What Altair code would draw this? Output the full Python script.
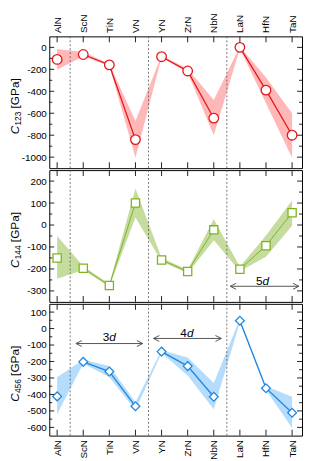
import altair as alt
import pandas as pd

# ---------------- data ----------------
compounds = ["AlN", "ScN", "TiN", "VN", "YN", "ZrN", "NbN", "LaN", "HfN", "TaN"]
segment = ["a", "b", "b", "b", "c", "c", "c", "d", "d", "d"]

c123 = [-110, -65, -160, -840, -85, -215, -645, 0, -390, -800]
c123_lo = [-205, -80, -170, -1005, -92, -232, -800, -10, -510, -1005]
c123_hi = [-15, -42, -150, -670, -75, -195, -480, 8, -275, -600]

c144 = [-150, -197, -275, 100, -159, -212, -22, -201, -94, 56]
c144_lo = [-245, -205, -281, 34, -166, -220, -69, -210, -145, -3]
c144_hi = [-50, -188, -268, 166, -150, -204, 26, -190, -48, 112]

c456 = [-412, -202, -261, -472, -140, -228, -414, 47, -362, -511]
c456_lo = [-521, -212, -295, -495, -148, -285, -490, 38, -373, -603]
c456_hi = [-295, -190, -228, -447, -132, -175, -330, 58, -350, -414]

separators = [0.5, 3.5, 6.5]

# annotations (data units)
ann_mid = {"x1": [6.63], "x2": [9.26], "y": [-279], "lx": [7.87], "ly": [-253], "num": ["5"]}
ann_bot = {"x1": [0.72, 3.69], "x2": [3.28, 6.29], "y": [-91, -60],
           "lx": [2.0, 4.97], "ly": [-52, -27], "num": ["3", "4"]}

# ---------------- style ----------------
W, H = 257, 134
X_DOMAIN = [-0.30, 9.38]
FONT = "Liberation Sans"
labels_js = "[" + ",".join("'%s'" % c for c in compounds) + "]"


def panel(vals, lo, hi, color, band, shape, size, sw, ydomain, ylabels, major, minor,
          sub, xorient, ann):
    df = pd.DataFrame({"i": list(range(len(compounds))), "v": vals, "lo": lo, "hi": hi,
                       "seg": segment})
    xs = alt.Scale(domain=X_DOMAIN, nice=False, zero=False)
    ys = alt.Scale(domain=ydomain, nice=False, zero=False)
    if xorient:
        xaxis = alt.Axis(orient=xorient, values=list(range(len(compounds))),
                         labelExpr=labels_js + "[datum.value]", labelAngle=270,
                         labelAlign="left" if xorient == "top" else "right",
                         labelBaseline="middle",
                         ticks=False, tickSize=0, domain=False, grid=False,
                         labelPadding=4, labelFontSize=10, labelFont=FONT,
                         labelColor="black", title=None, labelFlush=False)
    else:
        xaxis = None
    yaxis = alt.Axis(values=ylabels, labelExpr="'' + datum.value", ticks=False, tickSize=0,
                     domain=False, grid=False,
                     labelPadding=3, labelFontSize=10, labelFont=FONT, labelColor="black",
                     title=None, labelFlush=False)

    def X(f):
        return alt.X(f, scale=xs, axis=xaxis, title=None)

    def Y(f):
        return alt.Y(f, scale=ys, axis=yaxis, title=None)

    base = alt.Chart(df)
    layers = []
    layers.append(base.mark_area(color=band, opacity=1).encode(
        x=X("i:Q"), y=Y("lo:Q"), y2="hi:Q"))
    layers.append(alt.Chart(pd.DataFrame({"s": separators})).mark_rule(
        color="#555555", strokeDash=[2, 2], strokeWidth=0.8).encode(x=X("s:Q")))
    layers.append(base.mark_line(color=color, strokeWidth=sw).encode(
        x=X("i:Q"), y=Y("v:Q"), detail="seg:N"))
    layers.append(base.mark_point(shape=shape, filled=True, fill="white", stroke=color,
                                  strokeWidth=1.3, size=size, opacity=1).encode(
        x=X("i:Q"), y=Y("v:Q")))
    # inward ticks
    dmaj = alt.Chart(pd.DataFrame({"t": major}))
    dmin = alt.Chart(pd.DataFrame({"t": minor}))
    dcat = alt.Chart(pd.DataFrame({"i": list(range(len(compounds)))}))
    for x1, x2, d in [(0, 5, dmaj), (W - 5, W, dmaj), (0, 3, dmin), (W - 3, W, dmin)]:
        layers.append(d.mark_rule(color="#222222", strokeWidth=1).encode(
            y=Y("t:Q"), x=alt.value(x1), x2=alt.value(x2)))
    for y1, y2 in [(0, 6), (H - 6, H)]:
        layers.append(dcat.mark_rule(color="#222222", strokeWidth=1).encode(
            x=X("i:Q"), y=alt.value(y1), y2=alt.value(y2)))
    # arrows
    if ann:
        da = alt.Chart(pd.DataFrame(ann))
        layers.append(da.mark_rule(color="#555555", strokeWidth=1).encode(
            x=X("x1:Q"), x2="x2:Q", y=Y("y:Q")))
        layers.append(da.mark_point(shape="M2,-1L0,0L2,1", filled=False, color="#555555",
                                    strokeWidth=1, size=36, opacity=1).encode(
            x=X("x1:Q"), y=Y("y:Q")))
        layers.append(da.mark_point(shape="M-2,-1L0,0L-2,1", filled=False, color="#555555",
                                    strokeWidth=1, size=36, opacity=1).encode(
            x=X("x2:Q"), y=Y("y:Q")))
        layers.append(da.mark_text(align="right", baseline="middle", fontSize=12,
                                   font=FONT, color="black").encode(
            x=X("lx:Q"), y=Y("ly:Q"), text="num:N"))
        layers.append(da.mark_text(align="left", baseline="middle", fontSize=12,
                                   font=FONT, fontStyle="italic", color="black",
                                   text="d").encode(x=X("lx:Q"), y=Y("ly:Q")))
    # y title: italic C, subscript, [GPa]
    tx = -34.5
    wC, wS, wSp = 8.7, 14.2, 3.3
    L = wC + wS + wSp + 30.7
    y0 = H / 2 + 4 + L / 2
    one = alt.Chart(pd.DataFrame({"k": [0]}))
    layers.append(one.mark_text(text="C", angle=270, align="left", baseline="middle",
                                fontSize=12, font=FONT, fontStyle="italic", color="black")
                  .encode(x=alt.value(tx), y=alt.value(y0)))
    layers.append(one.mark_text(text=sub, angle=270, align="left", baseline="middle",
                                fontSize=8.5, font=FONT, color="black")
                  .encode(x=alt.value(tx + 3), y=alt.value(y0 - wC)))
    layers.append(one.mark_text(text="[GPa]", angle=270, align="left", baseline="middle",
                                fontSize=12, font=FONT, color="black")
                  .encode(x=alt.value(tx), y=alt.value(y0 - wC - wS - wSp)))
    return alt.layer(*layers).properties(width=W, height=H)


p1 = panel(c123, c123_lo, c123_hi, "#e8141a", "#ffb8b8", "circle", 95, 1.3,
           [-1100, 100], [0, -200, -400, -600, -800, -1000],
           [-1000, -800, -600, -400, -200, 0], [-900, -700, -500, -300, -100],
           "123", "top", None)
p2 = panel(c144, c144_lo, c144_hi, "#7db51e", "#c6dc9e", "square", 70, 1.0,
           [-350, 250], [200, 100, 0, -100, -200, -300],
           [-300, -200, -100, 0, 100, 200], [-250, -150, -50, 50, 150],
           "144", None, ann_mid)
p3 = panel(c456, c456_lo, c456_hi, "#1d86e3", "#b5dcfb", "diamond", 80, 1.3,
           [-650, 150], [100, 0, -100, -200, -300, -400, -500, -600],
           [-600, -500, -400, -300, -200, -100, 0, 100],
           [-550, -450, -350, -250, -150, -50, 50],
           "456", "bottom", ann_bot)

chart = alt.vconcat(p1, p2, p3, spacing=0).configure_view(
    stroke="black", strokeWidth=1).properties(
    padding={"left": 0, "top": 0, "right": 0, "bottom": 0})

chart.save("out.html", embed_options={"renderer": "svg", "actions": False})
